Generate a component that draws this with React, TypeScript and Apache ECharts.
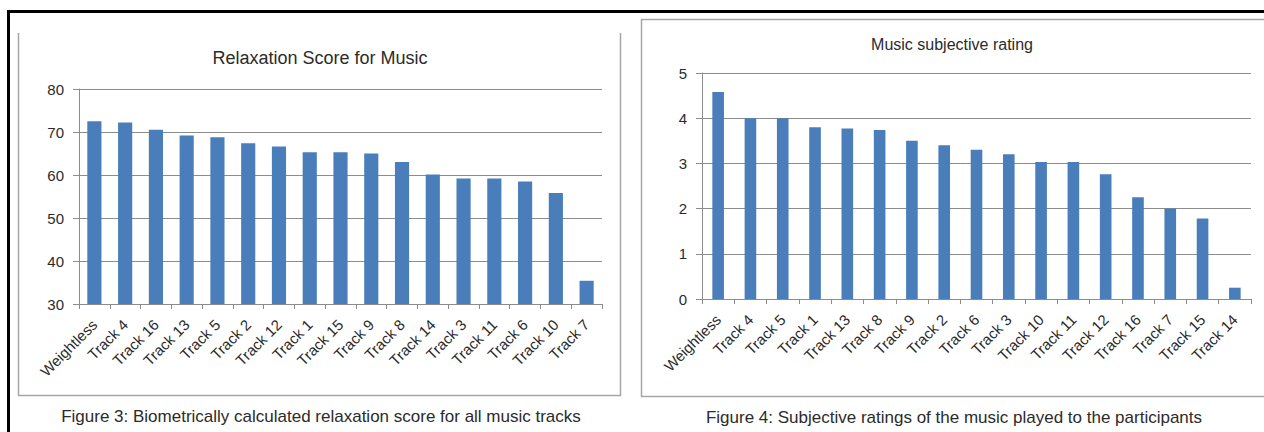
import React, { useEffect, useRef } from "react";
import * as echarts from "echarts";

// Figure 3: biometric relaxation score per track
const relaxCategories = [
  "Weightless", "Track 4", "Track 16", "Track 13", "Track 5", "Track 2",
  "Track 12", "Track 1", "Track 15", "Track 9", "Track 8", "Track 14",
  "Track 3", "Track 11", "Track 6", "Track 10", "Track 7",
];
const relaxScores = [
  72.5, 72.2, 70.5, 69.2, 68.8, 67.4, 66.6, 65.3, 65.3, 65.0, 63.0, 60.1,
  59.2, 59.2, 58.5, 55.8, 35.4,
];

// Figure 4: subjective rating per track
const ratingCategories = [
  "Weightless", "Track 4", "Track 5", "Track 1", "Track 13", "Track 8",
  "Track 9", "Track 2", "Track 6", "Track 3", "Track 10", "Track 11",
  "Track 12", "Track 16", "Track 7", "Track 15", "Track 14",
];
const ratingScores = [
  4.58, 4.0, 4.0, 3.8, 3.77, 3.74, 3.5, 3.4, 3.3, 3.2, 3.03, 3.03, 2.76,
  2.25, 2.0, 1.78, 0.25,
];

const relaxTitle = "Relaxation Score for Music";
const ratingTitle = "Music subjective rating";
const relaxCaption = "Figure 3: Biometrically calculated relaxation score for all music tracks";
const ratingCaption = "Figure 4: Subjective ratings of the music played to the participants";

const FONT = "'Liberation Sans', Arial, sans-serif";
const BAR = "#4a7ebb";
const GRID = "#8c8c8c";
const PANEL = "#a6a6a6";
const TEXT = "#2b2b2b";

function xAxis(gridIndex: number, data: string[]) {
  return {
    type: "category",
    gridIndex,
    data,
    axisLine: { lineStyle: { color: GRID, width: 1 } },
    axisTick: { show: true, alignWithLabel: false, length: 5, inside: false, lineStyle: { color: GRID } },
    axisLabel: {
      interval: 0,
      rotate: 45,
      margin: 18,
      color: TEXT,
      fontFamily: FONT,
      fontSize: 15,
    },
  };
}

function yAxis(gridIndex: number, min: number, max: number, interval: number) {
  return {
    type: "value",
    gridIndex,
    min,
    max,
    interval,
    axisLine: { show: true, lineStyle: { color: GRID, width: 1 } },
    axisTick: { show: true, length: 6, lineStyle: { color: GRID } },
    splitLine: { show: true, lineStyle: { color: GRID, width: 1.2 } },
    axisLabel: { color: TEXT, fontFamily: FONT, fontSize: 15, margin: 15 },
  };
}

export default function App() {
  const ref = useRef<HTMLDivElement>(null);

  useEffect(() => {
    if (!ref.current) return;
    const chart = echarts.init(ref.current, undefined, { renderer: "svg" });
    chart.setOption({
      animation: false,
      backgroundColor: "#ffffff",
      grid: [
        { left: 79, top: 89, width: 523, height: 215 },
        { left: 702, top: 73, width: 549, height: 226 },
      ],
      xAxis: [xAxis(0, relaxCategories), xAxis(1, ratingCategories)],
      yAxis: [yAxis(0, 30, 80, 10), yAxis(1, 0, 5, 1)],
      series: [
        {
          type: "bar",
          xAxisIndex: 0,
          yAxisIndex: 0,
          data: relaxScores,
          barWidth: "46%",
          itemStyle: { color: BAR },
        },
        {
          type: "bar",
          xAxisIndex: 1,
          yAxisIndex: 1,
          data: ratingScores,
          barWidth: "36%",
          itemStyle: { color: BAR },
        },
      ],
      graphic: [
        // page frame (top and left edges)
        { type: "rect", shape: { x: 7, y: 10, width: 1257, height: 3 }, style: { fill: "#000" }, silent: true },
        { type: "rect", shape: { x: 7, y: 10, width: 3, height: 422 }, style: { fill: "#000" }, silent: true },
        // left chart panel outline
        {
          type: "polyline",
          shape: { points: [[18.5, 33], [18.5, 395.5], [620.5, 395.5], [620.5, 33]] },
          style: { stroke: PANEL, lineWidth: 1.5, fill: null },
          silent: true,
        },
        // right chart panel outline
        {
          type: "polyline",
          shape: { points: [[1264, 19.5], [641.5, 19.5], [641.5, 396.5], [1264, 396.5]] },
          style: { stroke: PANEL, lineWidth: 1.5, fill: null },
          silent: true,
        },
        // titles
        {
          type: "text",
          x: 320,
          y: 58,
          style: { text: relaxTitle, fill: TEXT, font: `18px ${FONT}`, textAlign: "center", textVerticalAlign: "middle" },
        },
        {
          type: "text",
          x: 952,
          y: 44,
          style: { text: ratingTitle, fill: TEXT, font: `16px ${FONT}`, textAlign: "center", textVerticalAlign: "middle" },
        },
        // figure captions
        {
          type: "text",
          x: 321,
          y: 416,
          style: { text: relaxCaption, fill: TEXT, font: `17px ${FONT}`, textAlign: "center", textVerticalAlign: "middle" },
        },
        {
          type: "text",
          x: 954,
          y: 417,
          style: { text: ratingCaption, fill: TEXT, font: `17px ${FONT}`, textAlign: "center", textVerticalAlign: "middle" },
        },
      ],
    });
    return () => chart.dispose();
  }, []);

  return (
    <div
      ref={ref}
      style={{ position: "absolute", left: 0, top: 0, width: 1264, height: 432 }}
    />
  );
}
